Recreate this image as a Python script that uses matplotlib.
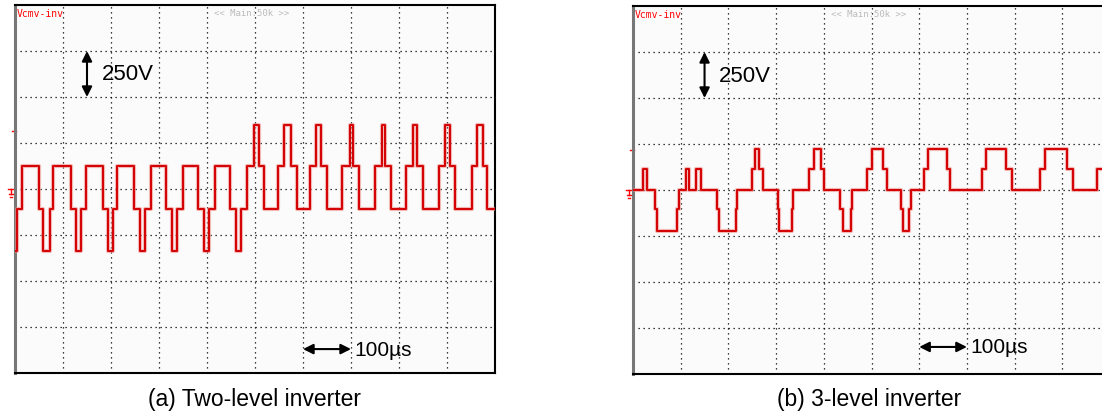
import numpy as np
import matplotlib.pyplot as plt

# Oscillogram data: switching instants (us) and common-mode voltage level (V)
# (a) two-level inverter
t_two = [0, 4, 15, 51, 59, 72, 80, 117, 127, 138, 148, 183, 193, 204, 213, 248,
         260, 271, 284, 315, 327, 337, 351, 382, 394, 404, 417, 447, 460, 471,
         484, 498, 509, 519, 547, 561, 575, 587, 615, 627, 638, 651, 682, 697,
         705, 717, 749, 764, 771, 783, 815, 829, 837, 851, 883, 896, 906, 917,
         952, 962, 974, 983, 1000]
v_two = [-337, -109, 125, -109, -337, -109, 125, -109, -337, -109, 125, -109, -337,
         -109, 125, -109, -337, -109, 125, -109, -337, -109, 125, -109, -337, -109,
         125, -109, -337, -109, 125, 348, 125, -109, 125, 348, 125, -109, 125, 348,
         125, -109, 125, 348, 125, -109, 125, 348, 125, -109, 125, 348, 125, -109,
         125, 348, 125, -109, 125, 348, 125, -109, -109]

# (b) 3-level inverter
t_three = [0, 22, 30, 46, 50, 93, 97, 111, 118, 132, 143, 176, 180, 215, 217, 249,
           256, 265, 272, 303, 307, 333, 336, 370, 380, 394, 401, 435, 440, 456,
           460, 491, 500, 524, 533, 561, 565, 579, 582, 611, 619, 658, 665, 731,
           740, 782, 794, 853, 864, 909, 923, 973, 1000]
v_three = [0, 116, 0, -105, -225, -105, 0, 116, 0, 116, 0, -105, -225, -105, 0,
           116, 225, 116, 0, -105, -225, -105, 0, 116, 225, 116, 0, -105, -225,
           -105, 0, 116, 225, 116, 0, -105, -225, -105, 0, 116, 225, 116, 0, 116,
           225, 116, 0, 116, 225, 116, 0, 116, 116]

captions = ['(a) Two-level inverter', '(b) 3-level inverter']
trig_levels = [315, 217]

W, H = 1102, 414
fig = plt.figure(figsize=(W / 100, H / 100), dpi=100)

# axes boxes in pixels: left, top, width, height
boxes = [(15, 6, 480, 368), (633, 7, 477, 368)]
datasets = [(t_two, v_two), (t_three, v_three)]
cap_x = [255, 869]

for i, ((lx, ty, w, h), (t, v)) in enumerate(zip(boxes, datasets)):
    ax = fig.add_axes([lx / W, 1 - (ty + h) / H, w / W, h / H])
    ax.set_facecolor('#fbfbfb')
    ax.set_xlim(0, 1000)
    ax.set_ylim(-1000, 1000)
    ax.set_xticks(np.arange(100, 1000, 100))
    ax.set_yticks(np.arange(-750, 1000, 250))
    ax.tick_params(length=0, labelbottom=False, labelleft=False)
    ax.grid(True, color='black', linestyle=(0, (1, 3)), linewidth=0.9)
    for s in ['top', 'right', 'bottom']:
        ax.spines[s].set_color('black')
        ax.spines[s].set_linewidth(1.5)
    ax.spines['left'].set_color('#777777')
    ax.spines['left'].set_linewidth(2.2)

    # trace
    ax.step(t, v, where='post', color='#f08a8a', lw=3.0, alpha=0.6, zorder=3)
    ax.step(t, v, where='post', color='#d40000', lw=1.4, zorder=4)

    # scope labels
    ax.text(4, 985, 'Vcmv-inv', color='red', fontsize=7, family='DejaVu Sans Mono',
            va='top', ha='left')
    ax.text(415, 985, '<< Main:50k >>', color='#bbbbbb', fontsize=6.5,
            family='DejaVu Sans Mono', va='top', ha='left')

    # ground and trigger markers
    ax.plot([-14, -2], [0, 0], color='red', lw=1, clip_on=False)
    ax.plot([-12, -4], [-25, -25], color='red', lw=1, clip_on=False)
    ax.plot([-10, -6], [-45, -45], color='red', lw=1, clip_on=False)
    ax.plot([-8, -8], [0, -25], color='red', lw=1, clip_on=False)
    ax.plot([-6, 2], [trig_levels[i], trig_levels[i]], color='red', lw=1, clip_on=False)

    # scale arrows
    ax.annotate('', xy=(150, 750), xytext=(150, 500),
                arrowprops=dict(arrowstyle='<|-|>', color='black', lw=1.5,
                                mutation_scale=15, shrinkA=0, shrinkB=0))
    ax.text(181, 625, '250V', fontsize=16, family='Liberation Sans', va='center', ha='left')
    yh = -870 if i == 0 else -853
    ax.annotate('', xy=(600, yh), xytext=(700, yh),
                arrowprops=dict(arrowstyle='<|-|>', color='black', lw=1.5,
                                mutation_scale=15, shrinkA=0, shrinkB=0))
    ax.text(707, yh, '100\u00b5s', fontsize=15, family='Liberation Sans', va='center', ha='left')

    fig.text(cap_x[i] / W, 1 - 400 / H, captions[i], fontsize=16.5,
             family='Liberation Sans', ha='center', va='center')

fig.savefig('out.png', dpi=100)
